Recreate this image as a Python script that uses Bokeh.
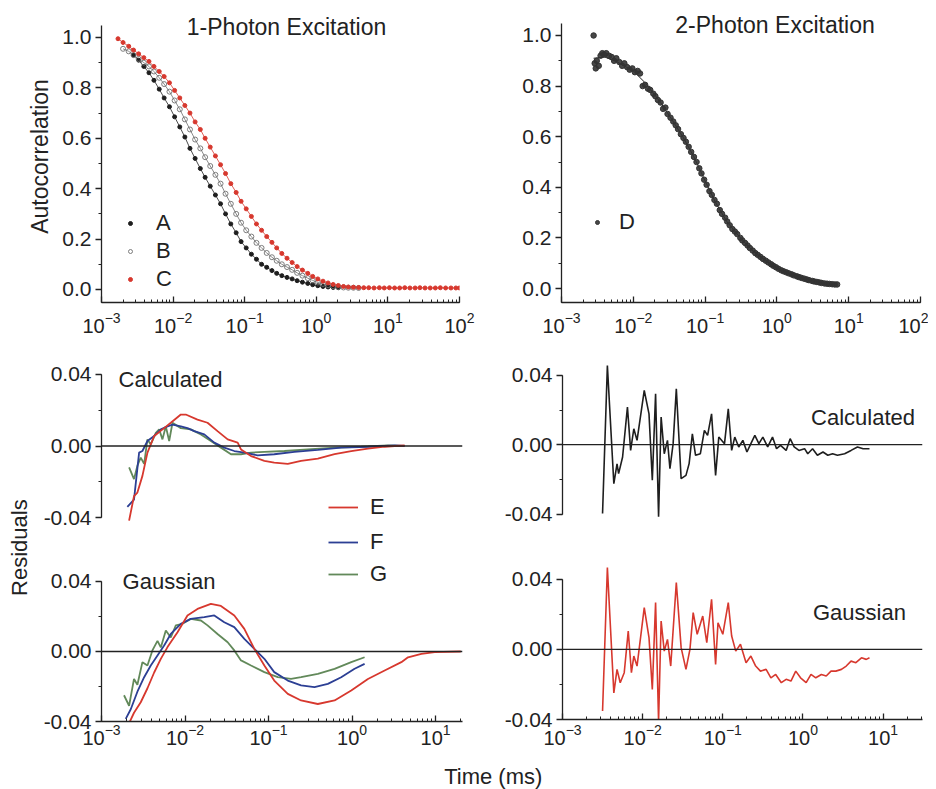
import math
from bokeh.plotting import figure
from bokeh.layouts import row, column
from bokeh.models import (Range1d, Span, Label, Legend, LegendItem,
                          SingleIntervalTicker, NumeralTickFormatter)
from bokeh.embed import file_html
from bokeh.resources import INLINE

FONT = "Liberation Sans"
INK = "#222222"
RED = "#d7382e"
BLUE = "#2c3f94"
GREEN = "#62895a"
GRAY = "#8a8a8a"
BLACK = "#1e1e1e"

# ---------------- data: (time in ms, value) ----------------
# 1-photon autocorrelation
A_1P = [(0.0028, 0.93), (0.0033, 0.91), (0.0039, 0.885), (0.0046, 0.86), (0.0054, 0.83),
        (0.0064, 0.795), (0.0075, 0.76), (0.0089, 0.725), (0.0105, 0.685), (0.0124, 0.645),
        (0.0146, 0.605), (0.0172, 0.56), (0.0203, 0.52), (0.024, 0.48), (0.028, 0.445),
        (0.033, 0.41), (0.039, 0.375), (0.046, 0.34), (0.054, 0.30), (0.064, 0.26),
        (0.076, 0.225), (0.089, 0.19), (0.105, 0.165), (0.124, 0.14), (0.146, 0.12),
        (0.172, 0.10), (0.203, 0.088), (0.24, 0.075), (0.28, 0.064), (0.33, 0.055),
        (0.39, 0.048), (0.46, 0.042), (0.54, 0.035), (0.64, 0.029), (0.76, 0.024),
        (0.89, 0.019), (1.05, 0.015), (1.24, 0.012), (1.46, 0.010), (1.72, 0.008), (2.03, 0.007)]
B_1P = [(0.0020, 0.955), (0.0024, 0.945), (0.0028, 0.93), (0.0033, 0.915), (0.0039, 0.90),
        (0.0046, 0.885), (0.0054, 0.865), (0.0064, 0.84), (0.0075, 0.815), (0.0089, 0.785),
        (0.0105, 0.75), (0.0124, 0.715), (0.0146, 0.675), (0.0172, 0.635), (0.0203, 0.595),
        (0.024, 0.56), (0.028, 0.525), (0.033, 0.49), (0.039, 0.455), (0.046, 0.42),
        (0.054, 0.38), (0.064, 0.34), (0.076, 0.30), (0.089, 0.265), (0.105, 0.235),
        (0.124, 0.21), (0.146, 0.185), (0.172, 0.165), (0.203, 0.145), (0.24, 0.128),
        (0.28, 0.114), (0.33, 0.10), (0.39, 0.089), (0.46, 0.078), (0.54, 0.066),
        (0.64, 0.055), (0.76, 0.045), (0.89, 0.036), (1.05, 0.028), (1.24, 0.022),
        (1.46, 0.017), (1.72, 0.013), (2.03, 0.010), (2.4, 0.008), (2.8, 0.007),
        (3.3, 0.007), (3.9, 0.006)]
C_1P = [(0.0017, 0.995), (0.0020, 0.98), (0.0024, 0.965), (0.0028, 0.95), (0.0033, 0.935),
        (0.0039, 0.92), (0.0046, 0.905), (0.0054, 0.885), (0.0064, 0.865), (0.0075, 0.845),
        (0.0089, 0.82), (0.0105, 0.79), (0.0124, 0.76), (0.0146, 0.73), (0.0172, 0.70),
        (0.0203, 0.665), (0.024, 0.635), (0.028, 0.60), (0.033, 0.565), (0.039, 0.53),
        (0.046, 0.495), (0.054, 0.46), (0.064, 0.42), (0.076, 0.385), (0.089, 0.35),
        (0.105, 0.32), (0.124, 0.29), (0.146, 0.26), (0.172, 0.235), (0.203, 0.21),
        (0.24, 0.187), (0.28, 0.165), (0.33, 0.143), (0.39, 0.124), (0.46, 0.107),
        (0.54, 0.091), (0.64, 0.077), (0.76, 0.064), (0.89, 0.052), (1.05, 0.042),
        (1.24, 0.033), (1.46, 0.026), (1.72, 0.020), (2.03, 0.016), (2.4, 0.012),
        (2.8, 0.010), (3.3, 0.009), (3.9, 0.008), (4.6, 0.007), (5.4, 0.007), (6.4, 0.006),
        (7.6, 0.007), (8.9, 0.006), (10.5, 0.007), (12.4, 0.006), (14.6, 0.006), (17.2, 0.007),
        (20.3, 0.006), (24, 0.006), (28, 0.007), (33, 0.006), (39, 0.006), (46, 0.006),
        (54, 0.007), (64, 0.006), (76, 0.006), (89, 0.006), (100, 0.006)]

# 2-photon autocorrelation (points and fit)
D_2P = [(0.0028, 1.00), (0.0029, 0.89), (0.0030, 0.87), (0.0031, 0.90), (0.0033, 0.88),
        (0.0035, 0.92), (0.0037, 0.93), (0.0039, 0.925), (0.0042, 0.93), (0.0046, 0.92),
        (0.0050, 0.915), (0.0054, 0.90), (0.0058, 0.91), (0.0064, 0.895), (0.0070, 0.88),
        (0.0075, 0.89), (0.0082, 0.875), (0.0089, 0.865), (0.0097, 0.87), (0.0105, 0.855),
        (0.0115, 0.86), (0.0124, 0.85), (0.0135, 0.80), (0.0146, 0.805), (0.0160, 0.79),
        (0.0172, 0.785), (0.0190, 0.77), (0.0203, 0.76), (0.022, 0.745), (0.024, 0.735),
        (0.026, 0.71), (0.028, 0.715), (0.030, 0.69), (0.033, 0.675), (0.036, 0.66),
        (0.039, 0.645), (0.042, 0.63), (0.046, 0.61), (0.050, 0.595), (0.054, 0.58),
        (0.059, 0.56), (0.064, 0.54), (0.070, 0.52), (0.076, 0.50), (0.083, 0.475),
        (0.089, 0.455), (0.097, 0.43), (0.105, 0.41), (0.115, 0.385), (0.124, 0.37),
        (0.135, 0.35), (0.146, 0.335), (0.160, 0.31), (0.172, 0.295), (0.19, 0.28),
        (0.203, 0.265), (0.22, 0.25), (0.24, 0.235), (0.26, 0.225), (0.28, 0.215),
        (0.31, 0.20), (0.33, 0.19), (0.36, 0.18), (0.39, 0.17), (0.42, 0.16), (0.46, 0.15),
        (0.50, 0.14), (0.54, 0.133), (0.59, 0.125), (0.64, 0.117), (0.70, 0.11), (0.76, 0.103),
        (0.83, 0.096), (0.89, 0.09), (0.97, 0.084), (1.05, 0.078), (1.15, 0.072), (1.24, 0.068),
        (1.35, 0.064), (1.46, 0.06), (1.6, 0.056), (1.72, 0.052), (1.9, 0.048), (2.03, 0.045),
        (2.2, 0.042), (2.4, 0.039), (2.6, 0.036), (2.8, 0.033), (3.1, 0.030), (3.3, 0.028),
        (3.6, 0.026), (3.9, 0.024), (4.2, 0.022), (4.6, 0.020), (5.0, 0.019), (5.4, 0.018),
        (5.9, 0.017), (6.4, 0.016), (6.9, 0.016)]
D_FIT = [(0.0028, 0.91), (0.004, 0.915), (0.006, 0.895), (0.01, 0.86), (0.015, 0.81),
         (0.024, 0.735), (0.035, 0.665), (0.05, 0.595), (0.07, 0.52), (0.1, 0.425),
         (0.14, 0.34), (0.2, 0.265), (0.3, 0.205), (0.45, 0.152), (0.7, 0.11), (1.0, 0.08),
         (1.5, 0.058), (2.3, 0.04), (3.5, 0.027), (5.0, 0.019), (6.9, 0.016)]

# 1-photon residuals, calculated profile
E_CALC = [(0.00214, -0.0417), (0.00245, -0.028), (0.00269, -0.026), (0.00309, -0.0167),
          (0.00355, -0.0037), (0.00427, 0.0056), (0.00562, 0.010), (0.00676, 0.013),
          (0.00891, 0.0176), (0.0102, 0.0176), (0.0141, 0.0148), (0.0186, 0.013),
          (0.0245, 0.0083), (0.0324, 0.0037), (0.0427, 0.0019), (0.0468, -0.0019),
          (0.0617, -0.0056), (0.0891, -0.0083), (0.117, -0.0093), (0.170, -0.010),
          (0.245, -0.0083), (0.389, -0.007), (0.617, -0.0046), (0.977, -0.0028),
          (1.549, -0.0015), (2.455, -0.0004), (3.236, 0.0), (4.266, 0.0003)]
F_CALC = [(0.00204, -0.034), (0.00245, -0.030), (0.00282, -0.0037), (0.00309, -0.0028),
          (0.00355, 0.0028), (0.00427, 0.0056), (0.00513, 0.0093), (0.00617, 0.011),
          (0.00708, 0.012), (0.00891, 0.011), (0.0107, 0.010), (0.0129, 0.0083),
          (0.0170, 0.0065), (0.0224, 0.0019), (0.0295, -0.0009), (0.0389, -0.0028),
          (0.0513, -0.0037), (0.0741, -0.0052), (0.117, -0.0046), (0.204, -0.0033),
          (0.389, -0.0022), (0.741, -0.0009), (1.549, -0.0004), (3.236, 0.0004), (4.266, 0.0)]
G_CALC = [(0.00214, -0.012), (0.00245, -0.0185), (0.00269, -0.011), (0.00295, -0.0065),
          (0.00324, -0.010), (0.00355, 0.0037), (0.00389, 0.0009), (0.00447, 0.0074),
          (0.00490, 0.0093), (0.00537, 0.0037), (0.00589, 0.011), (0.00646, 0.0028),
          (0.00708, 0.013), (0.00891, 0.010), (0.0117, 0.0093), (0.0155, 0.0065),
          (0.0204, 0.0028), (0.0269, -0.0009), (0.0355, -0.0046), (0.0468, -0.0046),
          (0.0617, -0.0037), (0.0891, -0.0033), (0.155, -0.0028), (0.295, -0.0019),
          (0.617, -0.0009), (1.288, -0.0004), (2.692, 0.0004), (3.890, 0.0)]

# 1-photon residuals, Gaussian profile
E_GAUSS = [(0.00195, -0.048), (0.00214, -0.041), (0.00245, -0.035), (0.00295, -0.029),
           (0.00355, -0.021), (0.00427, -0.012), (0.00513, -0.0042), (0.00617, 0.0025),
           (0.00813, 0.011), (0.0107, 0.0206), (0.0141, 0.0243), (0.0204, 0.0272),
           (0.0269, 0.026), (0.0389, 0.0206), (0.0513, 0.0129), (0.0676, 0.0015),
           (0.0891, -0.008), (0.117, -0.0166), (0.170, -0.0242), (0.245, -0.028),
           (0.389, -0.030), (0.617, -0.028), (0.977, -0.0223), (1.549, -0.0157),
           (2.455, -0.0109), (3.890, -0.0061), (4.677, -0.0033), (6.761, -0.0014),
           (9.772, -0.0004), (20.0, 0.0)]
F_GAUSS = [(0.00195, -0.0385), (0.00224, -0.033), (0.00269, -0.023), (0.00324, -0.0147),
           (0.00389, -0.008), (0.00468, -0.0023), (0.00562, 0.0034), (0.00676, 0.010),
           (0.00891, 0.0158), (0.0117, 0.0186), (0.0170, 0.0196), (0.0224, 0.0206),
           (0.0295, 0.0167), (0.0389, 0.0139), (0.0513, 0.0072), (0.0676, 0.0015),
           (0.0891, -0.0042), (0.117, -0.0118), (0.170, -0.0166), (0.245, -0.0194),
           (0.355, -0.0204), (0.513, -0.0185), (0.741, -0.0147), (1.072, -0.0099),
           (1.413, -0.0071)]
G_GAUSS = [(0.00186, -0.025), (0.00214, -0.031), (0.00245, -0.0157), (0.00269, -0.019),
           (0.00309, -0.0061), (0.00355, -0.008), (0.00407, 0.0006), (0.00468, 0.0061),
           (0.00513, 0.0023), (0.00589, 0.012), (0.00676, 0.008), (0.00776, 0.0149),
           (0.00933, 0.0158), (0.0117, 0.0186), (0.0155, 0.0177), (0.0186, 0.0149),
           (0.0245, 0.010), (0.0324, 0.0053), (0.0389, 0.0006), (0.0468, -0.0051),
           (0.0617, -0.008), (0.0891, -0.0118), (0.129, -0.0147), (0.186, -0.0157),
           (0.245, -0.0147), (0.389, -0.0128), (0.617, -0.0099), (0.977, -0.0061),
           (1.413, -0.0033)]

# 2-photon residuals
D_CALC = [(0.00316, -0.0397), (0.00363, 0.0457), (0.00437, -0.0225), (0.00479, -0.011),
          (0.00501, -0.0167), (0.00562, -0.0071), (0.00646, 0.0217), (0.00708, -0.0033),
          (0.00776, 0.0092), (0.00851, 0.0025), (0.01047, 0.0313), (0.0120, 0.0178),
          (0.0132, -0.0205), (0.0145, 0.0294), (0.0158, -0.0416), (0.0170, 0.0159),
          (0.0186, -0.0052), (0.0204, 0.0025), (0.0219, -0.0138), (0.0240, 0.0006),
          (0.0263, 0.0322), (0.0302, -0.0196), (0.0347, -0.0177), (0.0380, -0.0109),
          (0.0417, 0.0063), (0.0457, -0.0061), (0.0525, -0.0052), (0.0589, 0.0083),
          (0.0646, 0.0054), (0.0724, 0.0178), (0.0776, -0.0033), (0.0813, -0.0177),
          (0.0891, 0.0044), (0.105, 0.0006), (0.117, 0.0207), (0.129, -0.0033),
          (0.141, 0.0044), (0.158, -0.0013), (0.178, 0.0025), (0.200, -0.0042),
          (0.224, 0.0006), (0.251, 0.0054), (0.282, 0.0006), (0.316, 0.0044),
          (0.363, -0.0013), (0.417, 0.0044), (0.468, -0.0023), (0.525, -0.0004),
          (0.617, -0.0033), (0.692, 0.0035), (0.776, -0.0013), (0.891, -0.0033),
          (1.047, -0.0023), (1.148, -0.0052), (1.318, -0.0023), (1.514, -0.0061),
          (1.778, -0.0042), (2.042, -0.0061), (2.344, -0.0052), (2.692, -0.0061),
          (3.311, -0.0052), (3.981, -0.0033), (4.786, -0.0013), (5.623, -0.0023),
          (6.761, -0.0023)]
D_GAUSS = [(0.00316, -0.0352), (0.00363, 0.0467), (0.00437, -0.0248), (0.00479, -0.0114),
           (0.00525, -0.019), (0.00589, -0.0133), (0.00661, 0.0105), (0.00724, -0.0133),
           (0.00776, -0.0038), (0.00851, -0.0095), (0.01047, 0.0238), (0.0120, 0.0067),
           (0.0132, -0.0229), (0.0145, 0.0267), (0.0158, -0.041), (0.0170, 0.0162),
           (0.0186, -0.001), (0.0204, 0.0057), (0.0224, -0.0095), (0.0263, 0.0381),
           (0.0302, 0.001), (0.0347, -0.0114), (0.0389, 0.0), (0.0427, 0.021),
           (0.0479, 0.0086), (0.0562, 0.019), (0.0631, 0.0038), (0.0724, 0.0286),
           (0.0813, -0.0086), (0.0871, 0.0152), (0.100, 0.0086), (0.117, 0.0267),
           (0.129, 0.0076), (0.145, -0.001), (0.166, 0.0029), (0.195, -0.0076),
           (0.224, -0.0038), (0.257, -0.0095), (0.295, -0.0124), (0.347, -0.0114),
           (0.398, -0.0162), (0.457, -0.0143), (0.537, -0.019), (0.617, -0.0171),
           (0.708, -0.0181), (0.813, -0.0124), (0.933, -0.0162), (1.096, -0.019),
           (1.259, -0.0143), (1.445, -0.0162), (1.698, -0.0143), (1.950, -0.0152),
           (2.239, -0.0124), (2.570, -0.0124), (3.020, -0.0114), (3.467, -0.0095),
           (3.981, -0.0067), (4.571, -0.0076), (5.370, -0.0048), (6.166, -0.0057),
           (6.761, -0.0048)]


def split(pairs):
    return [p[0] for p in pairs], [p[1] for p in pairs]


def make_fig(width, height, x_end, y_range, borders, xaxis=True, x_standoff=9):
    left, right, top, bottom = borders
    p = figure(width=width, height=height, x_axis_type="log",
               x_range=Range1d(1e-3, x_end), y_range=Range1d(*y_range),
               min_border_left=left, min_border_right=right,
               min_border_top=top, min_border_bottom=bottom,
               toolbar_location=None, output_backend="svg",
               x_axis_location="below" if xaxis else None)
    p.grid.visible = False
    p.outline_line_color = None
    p.background_fill_color = "white"
    p.border_fill_color = "white"
    for ax in p.yaxis:
        ax.axis_line_color = INK
        ax.axis_line_width = 1.3
        ax.major_tick_line_color = INK
        ax.major_tick_line_width = 1.3
        ax.major_tick_out = 6
        ax.major_tick_in = 0
        ax.minor_tick_line_color = INK
        ax.minor_tick_out = 3
        ax.minor_tick_in = 0
        ax.major_label_text_font = FONT
        ax.major_label_text_font_size = "21px"
        ax.major_label_text_color = INK
        ax.major_label_standoff = 4
    for ax in p.xaxis:
        ax.axis_line_color = INK
        ax.axis_line_width = 1.3
        ax.major_tick_line_color = INK
        ax.major_tick_line_width = 1.3
        ax.major_tick_out = 0
        ax.major_tick_in = 6
        ax.minor_tick_line_color = INK
        ax.minor_tick_out = 0
        ax.minor_tick_in = 3
        ax.major_label_text_font = FONT
        ax.major_label_text_font_size = "20px"
        ax.major_label_text_color = INK
        ax.major_label_standoff = x_standoff
    return p


def add_text(p, x, y, text, align="left", size="22px"):
    p.add_layout(Label(x=x, y=y, text=text, text_align=align, text_baseline="middle",
                       text_font=FONT, text_font_size=size, text_color=INK))


def residual_axis(p):
    p.yaxis.ticker = SingleIntervalTicker(interval=0.04, num_minor_ticks=2)
    p.yaxis.formatter = NumeralTickFormatter(format="0.00")
    p.yaxis.bounds = (-0.04, 0.04)
    p.add_layout(Span(location=0, dimension="width", line_color=INK, line_width=1.3))


def make_legend(items, loc, glyph_w, spacing, standoff):
    return Legend(items=items, location=loc, border_line_color=None, background_fill_alpha=0,
                  label_text_font=FONT, label_text_font_size="22px", label_text_color=INK,
                  glyph_width=glyph_w, glyph_height=24, label_height=24, spacing=spacing,
                  padding=0, margin=0, label_standoff=standoff)


# ---------------- top-left: 1-photon ----------------
tl = make_fig(475, 345, 100, (-0.0516, 1.107), (101, 16, 10, 43), x_standoff=9)
tl.yaxis.ticker = SingleIntervalTicker(interval=0.2, num_minor_ticks=2)
tl.yaxis.formatter = NumeralTickFormatter(format="0.0")
tl.yaxis.bounds = (-0.0516, 1.048)
tl.yaxis.axis_label = "Autocorrelation"
tl.yaxis.axis_label_text_font = FONT
tl.yaxis.axis_label_text_font_size = "23px"
tl.yaxis.axis_label_text_font_style = "normal"
tl.yaxis.axis_label_text_color = INK
tl.yaxis.axis_label_standoff = 6

ta, ya = split(A_1P)
tb, yb = split(B_1P)
tc, yc = split(C_1P)
tl.line(tb, yb, line_color=GRAY, line_width=1.0)
tl.line(ta, ya, line_color=BLACK, line_width=0.8)
tl.line(tc, yc, line_color=RED, line_width=0.8)
ra = tl.scatter(ta, ya, marker="circle", size=4, fill_color=BLACK, line_color=BLACK)
rb = tl.scatter(tb, yb, marker="circle", size=5, fill_color="white", fill_alpha=0.0,
                line_color="#6f6f6f", line_width=0.9)
rc = tl.scatter(tc, yc, marker="circle", size=4, fill_color=RED, line_color=RED)
tl.add_layout(make_legend([LegendItem(label="A", renderers=[ra]),
                           LegendItem(label="B", renderers=[rb]),
                           LegendItem(label="C", renderers=[rc])],
                          (24, 10), 10, 2, 21))
add_text(tl, 0.384, 1.04, "1-Photon Excitation", align="center", size="23px")

# ---------------- top-right: 2-photon ----------------
tr = make_fig(453, 345, 100, (-0.0553, 1.0988), (86, 8, 10, 43), x_standoff=9)
tr.yaxis.ticker = SingleIntervalTicker(interval=0.2, num_minor_ticks=2)
tr.yaxis.formatter = NumeralTickFormatter(format="0.0")
tr.yaxis.bounds = (-0.0553, 1.047)
tf, yf = split(D_FIT)
td, yd = split(D_2P)
tr.line(tf, yf, line_color=BLACK, line_width=1.0)
rd = tr.scatter(td, yd, marker="circle", size=5.5, fill_color="#333333", line_color="#333333",
                fill_alpha=0.9)
tr.add_layout(make_legend([LegendItem(label="D", renderers=[rd])], (31, 67), 10, 2, 17))
add_text(tr, 0.942, 1.043, "2-Photon Excitation", align="center", size="23px")

# ---------------- middle-left: calculated residuals ----------------
ml = make_fig(435, 215, 21, (-0.0629, 0.0467), (61, 13, 17, 2), xaxis=False)
residual_axis(ml)
x1, y1 = split(E_CALC)
x2, y2 = split(F_CALC)
x3, y3 = split(G_CALC)
ml.line(x3, y3, line_color=GREEN, line_width=1.8)
rf1 = ml.line(x2, y2, line_color=BLUE, line_width=1.8)
re1 = ml.line(x1, y1, line_color=RED, line_width=1.8)
ml.add_layout(make_legend([LegendItem(label="E", renderers=[re1]),
                           LegendItem(label="F", renderers=[rf1])],
                          (227, 3), 30, 9, 12))
add_text(ml, 0.0016, 0.0372, "Calculated")

# ---------------- bottom-left: Gaussian residuals ----------------
bl = make_fig(435, 195, 21, (-0.04, 0.0514), (61, 13, 1, 34), x_standoff=2)
residual_axis(bl)
x1, y1 = split(E_GAUSS)
x2, y2 = split(F_GAUSS)
x3, y3 = split(G_GAUSS)
rg2 = bl.line(x3, y3, line_color=GREEN, line_width=1.8)
bl.line(x2, y2, line_color=BLUE, line_width=1.8)
bl.line(x1, y1, line_color=RED, line_width=1.8)
bl.add_layout(make_legend([LegendItem(label="G", renderers=[rg2])], (227, 134), 30, 9, 12))
add_text(bl, 0.00179, 0.040, "Gaussian")

# ---------------- middle-right: calculated residuals (2-photon) ----------------
mr = make_fig(453, 215, 31, (-0.042, 0.048), (87, 6, 16, 43), xaxis=False)
residual_axis(mr)
x1, y1 = split(D_CALC)
mr.line(x1, y1, line_color=BLACK, line_width=1.6)
add_text(mr, 1.26, 0.0158, "Calculated")

# ---------------- bottom-right: Gaussian residuals (2-photon) ----------------
br = make_fig(453, 195, 31, (-0.04, 0.049), (87, 6, 3, 36), x_standoff=4)
residual_axis(br)
x1, y1 = split(D_GAUSS)
br.line(x1, y1, line_color=RED, line_width=1.6)
add_text(br, 1.334, 0.0211, "Gaussian")

# ---------------- shared labels ----------------
fres = figure(width=40, height=410, x_range=Range1d(0, 1), y_range=Range1d(0, 1),
              min_border=0, toolbar_location=None, output_backend="svg",
              x_axis_location=None, y_axis_location=None)
fres.grid.visible = False
fres.outline_line_color = None
fres.add_layout(Label(x=0.475, y=0.507, text="Residuals", angle=math.pi / 2,
                      text_align="center", text_baseline="middle", text_font=FONT,
                      text_font_size="22px", text_color=INK))

ftime = figure(width=928, height=34, x_range=Range1d(0, 1), y_range=Range1d(0, 1),
               min_border=0, toolbar_location=None, output_backend="svg",
               x_axis_location=None, y_axis_location=None)
ftime.grid.visible = False
ftime.outline_line_color = None
ftime.add_layout(Label(x=0.531, y=0.37, text="Time (ms)", text_align="center",
                       text_baseline="middle", text_font=FONT, text_font_size="22px",
                       text_color=INK))

layout = column(row(tl, tr),
                row(fres, column(ml, bl), column(mr, br)),
                ftime)

open("out.html", "w").write(file_html(layout, INLINE))
